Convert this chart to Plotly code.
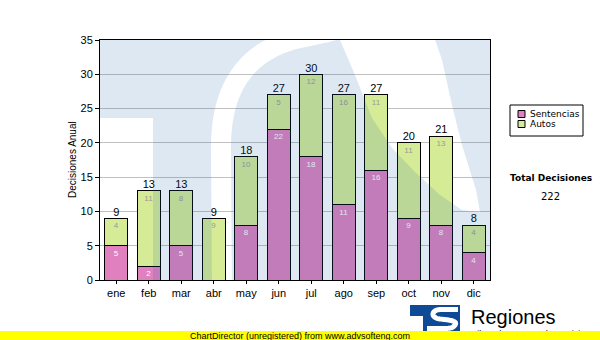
import numpy as np
import plotly.graph_objects as go

# ---- data -------------------------------------------------------------
meses = ["ene", "feb", "mar", "abr", "may", "jun", "jul", "ago", "sep", "oct", "nov", "dic"]
sentencias = [5, 2, 5, 0, 8, 22, 18, 11, 16, 9, 8, 4]
autos = [4, 11, 8, 9, 10, 5, 12, 16, 11, 11, 13, 4]
series_names = ["Sentencias", "Autos"]
y_ticks = [0, 5, 10, 15, 20, 25, 30, 35]

totales = [s + a for s, a in zip(sentencias, autos)]
total_decisiones = sum(totales)
idx = list(range(len(meses)))

# ---- styling ----------------------------------------------------------
W, H = 600, 340
ML, MR, MT, MB = 100, 110, 40, 60
PW, PH = W - ML - MR, H - MT - MB
X0, X1 = -0.5, len(meses) - 0.5
Y0, Y1 = 0, 35
C_SENT = "#e080be"
C_AUTO = "#d5eb96"
WATERMARK = "rgba(35,102,168,0.15)"
FONT = "Liberation Sans"


def to_data(px, py):
    """page pixel -> axis coordinates"""
    x = X0 + (px - ML) / PW * (X1 - X0)
    y = Y0 + (MT + PH - py) / PH * (Y1 - Y0)
    return x, y


def to_paper(px, py):
    return (px - ML) / PW, (MT + PH - py) / PH


def bezier(p0, p1, p2, p3, n=24):
    t = np.linspace(0, 1, n)[:, None]
    p0, p1, p2, p3 = map(np.asarray, (p0, p1, p2, p3))
    return (1 - t) ** 3 * p0 + 3 * (1 - t) ** 2 * t * p1 + 3 * (1 - t) * t ** 2 * p2 + t ** 3 * p3


def band_polygon(pts, half):
    pts = np.asarray(pts, float)
    d = np.gradient(pts, axis=0)
    d /= np.linalg.norm(d, axis=1)[:, None]
    nrm = np.stack([-d[:, 1], d[:, 0]], axis=1)
    left = pts + nrm * half
    right = pts - nrm * half
    return np.vstack([left, right[::-1]])


def subpath(points, conv=to_data):
    out = []
    for i, (px, py) in enumerate(points):
        x, y = conv(px, py)
        out.append(("M" if i == 0 else "L") + f"{x:.4f},{y:.4f}")
    return " ".join(out) + " Z"


# ---- background emblem (translucent, drawn over the plot) -------------
frame = [(ML, MT), (ML + PW, MT), (ML + PW, MT + PH), (ML, MT + PH)]
notch = [(ML, 118), (153, 118), (153, MT + PH), (ML, MT + PH)]
spine = np.vstack([
    np.linspace([222, 300], [221, 150], 12),
    bezier([221, 150], [220, 90], [245, 50], [300, 38]),
    bezier([300, 38], [330, 32], [345, 28], [360, 20]),
])
gap = band_polygon(spine, 10)
counter = [(330, 25), (430, 25), (442, 60), (452, 105), (462, 145), (476, 190),
           (480, 212), (462, 210), (440, 195), (415, 172), (392, 148), (372, 118),
           (355, 75), (340, 40)]
emblem_path = " ".join([subpath(frame), subpath(notch), subpath(gap), subpath(counter)])

fig = go.Figure()

fig.add_trace(go.Bar(
    x=idx, y=sentencias, name=series_names[0], width=0.72,
    marker=dict(color=C_SENT, line=dict(color="black", width=1)),
    text=[str(v) if v else "" for v in sentencias],
    textposition="inside", insidetextanchor="end", textangle=0,
    constraintext="none",
    insidetextfont=dict(family=FONT, size=8, color="white"),
    hoverinfo="skip",
))
fig.add_trace(go.Bar(
    x=idx, y=autos, name=series_names[1], width=0.72,
    marker=dict(color=C_AUTO, line=dict(color="black", width=1)),
    text=[str(v) if v else "" for v in autos],
    textposition="inside", insidetextanchor="end", textangle=0,
    constraintext="none",
    insidetextfont=dict(family=FONT, size=8, color="#9a9a9a"),
    hoverinfo="skip",
))
fig.add_trace(go.Scatter(
    x=idx, y=totales, mode="text", text=[str(v) for v in totales],
    textposition="top center", textfont=dict(family=FONT, size=11, color="black"),
    hoverinfo="skip", showlegend=False,
))

shapes = [
    dict(type="path", xref="x", yref="y", path=emblem_path, fillrule="evenodd",
         fillcolor=WATERMARK, line=dict(width=0), layer="above"),
]

# legend box
lx0, ly0, lx1, ly1 = 510, 105, 583, 136
p0 = to_paper(lx0, ly0)
p1 = to_paper(lx1, ly1)
shapes.append(dict(type="rect", xref="paper", yref="paper", x0=p0[0], y0=p1[1], x1=p1[0], y1=p0[1],
                   line=dict(color="black", width=1), fillcolor="white", layer="above"))
annotations = []
for k, (name, col) in enumerate(zip(series_names, [C_SENT, C_AUTO])):
    cy = 114 + k * 10
    a = to_paper(518, cy - 3.5)
    b = to_paper(525, cy + 3.5)
    shapes.append(dict(type="rect", xref="paper", yref="paper", x0=a[0], y0=b[1], x1=b[0], y1=a[1],
                       line=dict(color="black", width=1), fillcolor=col, layer="above"))
    tx, ty = to_paper(528, cy)
    annotations.append(dict(xref="paper", yref="paper", x=tx, y=ty, xanchor="left", yanchor="middle",
                            text=name, showarrow=False,
                            font=dict(family="DejaVu Sans", size=9, color="black")))

# total summary
tx, ty = to_paper(551, 178)
annotations.append(dict(xref="paper", yref="paper", x=tx, y=ty, xanchor="center", yanchor="middle",
                        text="<b>Total Decisiones</b>", showarrow=False,
                        font=dict(family="DejaVu Sans", size=9, color="black")))
tx, ty = to_paper(550, 196)
annotations.append(dict(xref="paper", yref="paper", x=tx, y=ty, xanchor="center", yanchor="middle",
                        text=str(total_decisiones), showarrow=False,
                        font=dict(family="DejaVu Sans", size=10, color="black")))

# y axis title
tx, ty = to_paper(72, 160)
annotations.append(dict(xref="paper", yref="paper", x=tx, y=ty, xanchor="center", yanchor="middle",
                        text="Decisiones Anual", textangle=-90, showarrow=False,
                        font=dict(family=FONT, size=10, color="black")))

# footer logo
LOGO_BLUE = "#0e4a96"
a = to_paper(410, 305)
b = to_paper(460, 331)
shapes.append(dict(type="rect", xref="paper", yref="paper", x0=a[0], y0=b[1], x1=b[0], y1=a[1],
                   line=dict(width=0), fillcolor=LOGO_BLUE, layer="above"))
a = to_paper(410, 316)
b = to_paper(423, 331)
shapes.append(dict(type="rect", xref="paper", yref="paper", x0=a[0], y0=b[1], x1=b[0], y1=a[1],
                   line=dict(width=0), fillcolor="white", layer="above"))
s_curve = np.vstack([
    np.linspace([458, 309.5], [441, 309.5], 6),
    bezier([441, 309.5], [431, 309.5], [430, 318], [440, 319]),
    bezier([440, 319], [450, 320], [458, 321], [455, 325]),
    bezier([455, 325], [453, 328], [450, 328.5], [444, 328.5]),
    np.linspace([444, 328.5], [427, 328.5], 6),
])
s_path = " ".join(("M" if i == 0 else "L") + "{:.5f},{:.5f}".format(*to_paper(*p)) for i, p in enumerate(s_curve))
shapes.append(dict(type="path", xref="paper", yref="paper", path=s_path,
                   line=dict(color="white", width=5), layer="above"))

tx, ty = to_paper(469, 317)
annotations.append(dict(xref="paper", yref="paper", x=tx, y=ty, xanchor="left", yanchor="middle",
                        text="Regiones", showarrow=False,
                        font=dict(family=FONT, size=20, color="black")))
tx, ty = to_paper(467, 333.5)
annotations.append(dict(xref="paper", yref="paper", x=tx, y=ty, xanchor="left", yanchor="middle",
                        text="Tribunal Supremo de Justicia", showarrow=False,
                        font=dict(family=FONT, size=9, color="black")))
# unregistered banner
tx, ty = to_paper(300, 335.5)
annotations.append(dict(xref="paper", yref="paper", x=tx, y=ty, xanchor="center", yanchor="middle",
                        text="ChartDirector (unregistered) from www.advsofteng.com", showarrow=False,
                        width=600, height=9, bgcolor="#ffff00", borderpad=0, borderwidth=0,
                        font=dict(family=FONT, size=9, color="black")))

fig.update_layout(
    width=W, height=H,
    margin=dict(l=ML, r=MR, t=MT, b=MB),
    paper_bgcolor="white", plot_bgcolor="white",
    barmode="stack", showlegend=False,
    shapes=shapes, annotations=annotations,
    font=dict(family=FONT, size=11, color="black"),
)
fig.update_xaxes(
    range=[X0, X1], tickvals=idx, ticktext=meses,
    showline=True, linecolor="black", linewidth=1, mirror=True,
    showgrid=False, zeroline=False,
    ticks="outside", ticklen=3, tickcolor="black",
    tickfont=dict(family=FONT, size=11, color="black"),
)
fig.update_yaxes(
    range=[Y0, Y1], tickvals=y_ticks,
    showline=True, linecolor="black", linewidth=1, mirror=True,
    showgrid=True, gridcolor="#c0c0c0", gridwidth=1, zeroline=False,
    ticks="outside", ticklen=4, tickcolor="black",
    tickfont=dict(family=FONT, size=11, color="black"),
)

fig.write_html("out.html")
